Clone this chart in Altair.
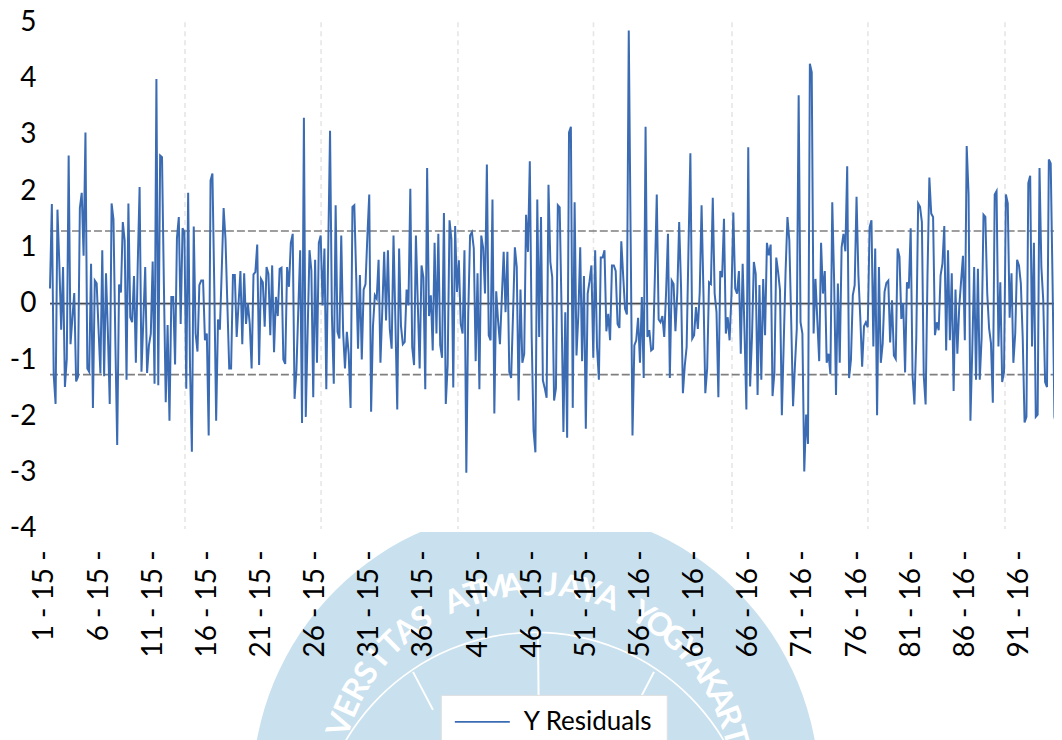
import math
import altair as alt
import pandas as pd

residuals_a = [.27,1.77,-1.27,-1.78,1.67,.71,-.46,.65,-1.48,-.98,2.63,-.72,-.25,.19,-1.38,-1.3,1.7,1.97,.85,3.04,
 -1.15,-1.21,.71,-1.85,.41,.36,-.45,-1.24,.95,-1.29,.54,-.5,-1.78,1.78,1.5,-.65,-2.51,.34,.2,1.45,
 1.12,-1.35,1.78,-.24,-.33,.49,-1.05,.7,2.07,-1.21,-.3,.65,-1.23,-.74,-.53,.75,-1.42,3.99,-1.45,2.63,
 2.6,.35,-1.75,-.38,-2.08,.12,.12,-1.08,1.17,1.54,-.36,1.34,1.27,-1.51,1.97,-1.12,-2.63,1.37,-.53,-.85,
 .33,.41,.41,-.65,-.53,-2.34,2.19,2.31,.3,-2.08,-.28,-.46,.6,1.7,1.15,0,-1.15,-1.15,.51,.51,
 -.59,0,.58,-.72,.54,-.36,.01,-.36,-1.15,.52,.56,1.05,-1.09,.44,.38,-.41,.65,.53,-.56]
residuals_b = [.68,-.86,.12,-.22,.62,.64,-.99,-1.07,.65,.3,1.08,1.24,-1.69,-1.18,-.1,.95,-2.12,3.3,-2.01,-.5,
 .95,.59,-1.66,.78,-1.05,1.08,1.21,-.03,.98,-1.52,.9,3.07,-.2,-1.42,1.75,-.5,-.62,1.21,-.5,-1.15,
 -.5,-.89,-1.85,1.72,1.75,.5,-.8,.51,-.99,.25,.35,1.2,1.94,-1.92,-.4,.15,.09,.78,-1.05,-.1,
 .92,-.3,.95,-.45,-.8,1.21,-.3,-1.88,.98,-.4,-.72,-.68,.25,-.03,2.04,-.77,-1.09,1.21,0,-1.15,
 .68,.47,-1.52,2.41,-.22,.15,-.83,1.08,-.53,1.24,-.73,-.96,1.61,-1.78,-1.09,1.48,1.15,-1.49,1.38,.21,
 .77,-.36,-.53,.95,-3.0,-.21,1.21,1.27,.98,-1.02,.54,-1.52,1.21,.99,.18,2.47,-.56,-.65,1.85,-1.95,
 .22,-.3,-.72,.1,.92,-.15,.92,-1.21,-1.32,-.2,1.0,.65,-1.72,.25,-1.05,-.89,1.58,.92,2.53]
residuals_c = [-.59,-2.25,-2.64,1.85,-.59,1.54,-1.36,-1.5,-1.67,2.11,.74,.47,-1.72,-1.5,1.75,1.71,-.1,-2.28,-.15,-2.38,
 3.04,3.14,-1.85,1.8,-.92,-.2,1.0,-1.02,.49,-2.22,.18,.4,.68,-.96,.95,-.77,-1.35,.82,.82,.95,
 -.49,-.18,-.65,.68,.68,.58,-.36,-.43,1.11,.5,-.09,-.19,4.85,1.2,-2.34,-.74,-.65,-.25,-1.05,.12,
 -1.32,3.14,-.59,-.47,-.83,-.8,.51,1.94,-.28,-.33,-.22,-.59,.21,1.24,-1.32,.41,.35,-.49,.2,1.45,
 .3,-1.59,-1.1,-.77,1.0,2.67,-.62,-.56,-.06,-.45,.2,1.75,.2,-1.59,-1.15,.38,.35,1.88,.18,-.15,
 -1.66,.58,.47,1.51,-.53,-.24,-.65,.15,1.62,.27,.18,.58,-.89,.71,-.5,-1.88,2.78,-1.47,-.59,.74,
 .53,-1.62,.33,-1.35,.44,-.56,1.08,.86,1.05,-1.64,-1.23,.82,.56,.24,-1.98,-.7,.58,1.54,1.12,-.3,
 -1.82,-1.1,-.44]
residuals_d = [3.7,-.33,-.53,-2.98,-1.97,-2.49,4.26,4.11,-.53,.44,-.3,-1.02,1.08,.18,.58,-1.05,-.89,-1.25,1.8,.4,
 -1.62,.36,-1.05,1.0,1.24,.93,2.44,-1.32,-1.0,.15,.33,1.9,.5,-.24,-1.12,-.4,-.33,-.42,1.36,1.48,
 -.76,.98,-1.98,.65,-1.05,-.71,.21,.37,.41,-.69,.06,-.92,-.98,.98,.83,-.27,.01,-1.22,.38,.27,
 1.34,-1.28,-1.79,-.61,1.78,1.72,1.45,-1.28,-1.79,.5,2.24,1.6,1.54,-.56,-.33,-.47,.5,.71,1.38,-.83,
 .95,-.65,.54,-1.55,.25,-.89,-.06,.4,.85,-.65,2.8,1.95,-2.08,-.8,.65,-1.35,.62,-1.35,-.6,1.58,
 1.54,.18,-.44,-.7,-1.76 ,1.94,2.0,-.76,.38,-1.39,-1.21,1.94,1.78,-.25,.54,-1.05,-.53,.78,.68,.36,
 -.6,-2.11,-2.01,2.14,2.27,-.76,1.08,-2.01,-1.97,2.41,.65,.06,-1.39,-1.48,2.56,2.49,.36,-2.01,-2.18,-1.98,
 1.45,3.2]
residuals = residuals_a + residuals_b + residuals_c + residuals_d

tick_labels = ["1 - 15 -","6 - 15 -","11 - 15 -","16 - 15 -","21 - 15 -","26 - 15 -","31 - 15 -","36 - 15 -","41 - 15 -",
               "46 - 15 -","51 - 15 -","56 - 16 -","61 - 16 -","66 - 16 -","71 - 16 -","76 - 16 -","81 - 16 -","86 - 16 -","91 - 16 -"]
tick_obs = [-2.7 + 29*i for i in range(len(tick_labels))]
grid_obs = [72.3,145.2,218.5,291.1,365.3,438.1,511.5]
limits = [1.29,-1.26]

# the svg can only reach page x 1054; 1.867 px per observation; observation 0 sits at page x 50
X0 = -3.0
LEFT = 50 + X0*1.867            # page x of plot's left edge
XMAX = (1054-50)/1.867
W, H = round((XMAX-X0)*1.867), 507
def ox(px): return (px-50)/1.867
def oy(py): return 5-(py-22)/H*9

BLUE = "#3b6cb3"; WM = "#c9e0ee"; FONT = "Lato"
x_scale = alt.Scale(domain=[X0,XMAX], nice=False, zero=False)
y_scale = alt.Scale(domain=[-4,5], nice=False, zero=False)
label_expr = "[" + ",".join(f"'{s}'" for s in tick_labels) + "][round((datum.value+2.7)/29)]"
x_axis = alt.Axis(values=tick_obs, labelExpr=label_expr, labelAngle=270, labelAlign="right", labelBaseline="middle",
        labelFont=FONT, labelFontSize=28, labelColor="black", labelPadding=21, tickSize=0, domain=False,
        grid=False, zindex=1, labelOverlap=False, labelBound=False, labelFlush=False, title=None)
y_axis = alt.Axis(values=[5,4,3,2,1,0,-1,-2,-3,-4], labelFont=FONT, labelFontSize=28, labelColor="black",
        labelPadding=LEFT-36, tickSize=0, domain=False, grid=False, zindex=1, labelExpr="'' + datum.value", title=None)
def X(f): return alt.X(f, scale=x_scale, axis=x_axis)
def Y(f): return alt.Y(f, scale=y_scale, axis=y_axis)

one = pd.DataFrame({"a":[0]})
disc = alt.Chart(one).mark_arc(radius=283.6, theta=0, theta2=6.2832, color=WM).encode(
    x=alt.value(536-LEFT), y=alt.value(791-22))
ring = alt.Chart(one).mark_arc(radius=220, radius2=218.4, theta=0, theta2=6.2832, color="white").encode(
    x=alt.value(535-LEFT), y=alt.value(851.7-22))
mask = alt.Chart(one).mark_rect(color="white").encode(
    x=alt.value(150), x2=alt.value(850), y=alt.value(440), y2=alt.value(532-22))

spokes = pd.DataFrame({"x":[ox(413),ox(538),ox(654)],"y":[oy(672),oy(632),oy(672)],
                       "x2":[ox(433),ox(538.6),ox(641)],"y2":[oy(710),oy(700),oy(697)]})
spoke = alt.Chart(spokes).mark_rule(color="white", strokeWidth=2).encode(
    x=X("x:Q"), x2="x2:Q", y=Y("y:Q"), y2="y2:Q")

word = "UNIVERSITAS ATMA JAYA YOGYAKARTA"
rows=[]
for i,c in enumerate(word):
    t=-87.6+5.4*i
    a=math.radians(t)
    py = 791-206*math.cos(a)
    if py < 738:
        rows.append({"c":c,"x":ox(536+206*math.sin(a)),"y":oy(py),"ang":t%360})
letters = alt.Chart(pd.DataFrame(rows)).mark_text(color="white",font=FONT,fontSize=32,fontWeight="bold",
        align="center",baseline="middle").encode(
    x=X("x:Q"), y=Y("y:Q"), text="c:N", angle=alt.Angle("ang:Q",scale=None))

grid = alt.Chart(pd.DataFrame({"x":grid_obs})).mark_rule(color="#e6e6e6",strokeWidth=1.6,strokeDash=[5,4]).encode(x=X("x:Q"))
def hline(vals, **kw):
    d = pd.DataFrame({"y":vals,"x":0.0,"x2":XMAX})
    return alt.Chart(d).mark_rule(**kw).encode(x=X("x:Q"), x2="x2:Q", y=Y("y:Q"))
zero_halo = hline([0], color="#c4c4c4", strokeWidth=3.2)
zero = hline([0], color="#4a4a4a", strokeWidth=1.3)
limit = hline(limits, color="#7f7f7f", strokeWidth=1.6, strokeDash=[8,3])

df = pd.DataFrame({"obs":range(len(residuals)),"resid":residuals,"series":"Y Residuals"})
line = alt.Chart(df).mark_line(strokeWidth=2, clip=True).encode(
    x=X("obs:Q"), y=Y("resid:Q"),
    color=alt.Color("series:N", scale=alt.Scale(range=[BLUE]), legend=alt.Legend(
        title=None, orient="none", legendX=441-LEFT, legendY=695-22, fillColor="white", strokeColor="#e0e0e0",
        padding=14, symbolType="M-1.3,0H4.2", symbolSize=400, symbolStrokeWidth=1.8, labelOffset=43,
        labelFont=FONT, labelFontSize=26, labelColor="black", zindex=1)),
    order=alt.Order("obs:Q"))

chart = alt.layer(disc, ring, mask, spoke, letters, grid, zero_halo, zero, limit, line).properties(
    width=W, height=H,
    padding={"left":LEFT-8,"top":14,"right":0,"bottom":211},
    autosize=alt.AutoSizeParams(type="none", contains="content"),
).configure_view(stroke=None)

chart.save("out.html", embed_options={"renderer":"svg","actions":False})
